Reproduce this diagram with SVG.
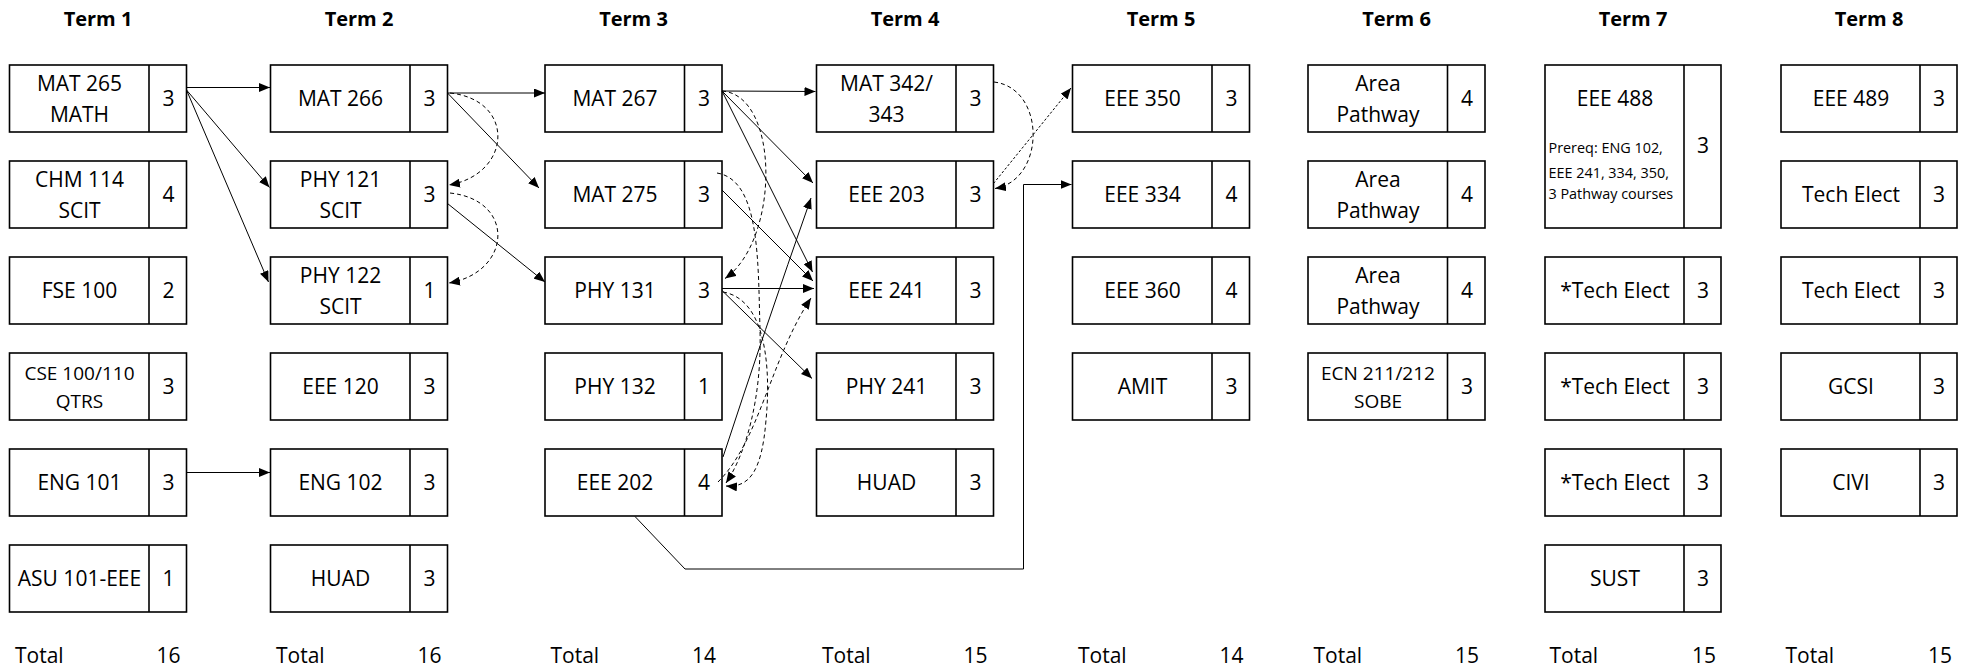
<svg xmlns="http://www.w3.org/2000/svg" width="1971" height="669" viewBox="0 0 1971 669">
<style>
.bx{fill:#fff;stroke:#000;stroke-width:1.6}
.dv{stroke:#000;stroke-width:1.6}
text{font-family:'Open Sans','Liberation Sans',sans-serif;fill:#000}
.t{font-size:21px;text-anchor:middle}
.sm{font-size:19px}
.ttl{font-size:20px;font-weight:bold;text-anchor:middle}
.pre{font-size:14.4px;text-anchor:start}
.tot{font-size:21px}
.tn{font-size:21px;text-anchor:end}
.c{fill:none;stroke:#000;stroke-width:1}
.d{stroke-dasharray:4 3}
.dot{stroke-dasharray:2.5 2}
</style>
<defs>
<marker id="ah" viewBox="0 0 11 9" refX="11" refY="4.5" markerWidth="11" markerHeight="9" markerUnits="userSpaceOnUse" orient="auto">
<path d="M0,0 L11,4.5 L0,9 z" fill="#000"/>
</marker>
</defs>
<rect width="1971" height="669" fill="#fff"/>

<g id="titles">
<text class="ttl" x="98" y="26">Term 1</text>
<text class="ttl" x="359" y="26">Term 2</text>
<text class="ttl" x="633.5" y="26">Term 3</text>
<text class="ttl" x="905" y="26">Term 4</text>
<text class="ttl" x="1161" y="26">Term 5</text>
<text class="ttl" x="1396.5" y="26">Term 6</text>
<text class="ttl" x="1633" y="26">Term 7</text>
<text class="ttl" x="1869" y="26">Term 8</text>
</g>

<!-- Term 1 -->
<g id="mat265"><rect class="bx" x="9.5" y="65" width="177" height="67"/><line class="dv" x1="149" y1="65" x2="149" y2="132"/><text class="t" x="79.5" y="90.7">MAT 265</text><text class="t" x="79.5" y="121.7">MATH</text><text class="t" x="168.5" y="106">3</text></g>
<g id="chm114"><rect class="bx" x="9.5" y="161" width="177" height="67"/><line class="dv" x1="149" y1="161" x2="149" y2="228"/><text class="t" x="79.5" y="186.7">CHM 114</text><text class="t" x="79.5" y="217.7">SCIT</text><text class="t" x="168.5" y="202">4</text></g>
<g id="fse100"><rect class="bx" x="9.5" y="257" width="177" height="67"/><line class="dv" x1="149" y1="257" x2="149" y2="324"/><text class="t" x="79.5" y="298">FSE 100</text><text class="t" x="168.5" y="298">2</text></g>
<g id="cse100"><rect class="bx" x="9.5" y="353" width="177" height="67"/><line class="dv" x1="149" y1="353" x2="149" y2="420"/><text class="t sm" x="79.5" y="380">CSE 100/110</text><text class="t sm" x="79.5" y="408">QTRS</text><text class="t" x="168.5" y="394">3</text></g>
<g id="eng101"><rect class="bx" x="9.5" y="449" width="177" height="67"/><line class="dv" x1="149" y1="449" x2="149" y2="516"/><text class="t" x="79.5" y="490">ENG 101</text><text class="t" x="168.5" y="490">3</text></g>
<g id="asu101"><rect class="bx" x="9.5" y="545" width="177" height="67"/><line class="dv" x1="149" y1="545" x2="149" y2="612"/><text class="t" x="79.5" y="586">ASU 101-EEE</text><text class="t" x="168.5" y="586">1</text></g>

<!-- Term 2 -->
<g id="mat266"><rect class="bx" x="270.5" y="65" width="177" height="67"/><line class="dv" x1="410" y1="65" x2="410" y2="132"/><text class="t" x="340.5" y="106">MAT 266</text><text class="t" x="429.5" y="106">3</text></g>
<g id="phy121"><rect class="bx" x="270.5" y="161" width="177" height="67"/><line class="dv" x1="410" y1="161" x2="410" y2="228"/><text class="t" x="340.5" y="186.7">PHY 121</text><text class="t" x="340.5" y="217.7">SCIT</text><text class="t" x="429.5" y="202">3</text></g>
<g id="phy122"><rect class="bx" x="270.5" y="257" width="177" height="67"/><line class="dv" x1="410" y1="257" x2="410" y2="324"/><text class="t" x="340.5" y="282.7">PHY 122</text><text class="t" x="340.5" y="313.7">SCIT</text><text class="t" x="429.5" y="298">1</text></g>
<g id="eee120"><rect class="bx" x="270.5" y="353" width="177" height="67"/><line class="dv" x1="410" y1="353" x2="410" y2="420"/><text class="t" x="340.5" y="394">EEE 120</text><text class="t" x="429.5" y="394">3</text></g>
<g id="eng102"><rect class="bx" x="270.5" y="449" width="177" height="67"/><line class="dv" x1="410" y1="449" x2="410" y2="516"/><text class="t" x="340.5" y="490">ENG 102</text><text class="t" x="429.5" y="490">3</text></g>
<g id="huad2"><rect class="bx" x="270.5" y="545" width="177" height="67"/><line class="dv" x1="410" y1="545" x2="410" y2="612"/><text class="t" x="340.5" y="586">HUAD</text><text class="t" x="429.5" y="586">3</text></g>

<!-- Term 3 -->
<g id="mat267"><rect class="bx" x="545" y="65" width="177" height="67"/><line class="dv" x1="684.5" y1="65" x2="684.5" y2="132"/><text class="t" x="615" y="106">MAT 267</text><text class="t" x="704" y="106">3</text></g>
<g id="mat275"><rect class="bx" x="545" y="161" width="177" height="67"/><line class="dv" x1="684.5" y1="161" x2="684.5" y2="228"/><text class="t" x="615" y="202">MAT 275</text><text class="t" x="704" y="202">3</text></g>
<g id="phy131"><rect class="bx" x="545" y="257" width="177" height="67"/><line class="dv" x1="684.5" y1="257" x2="684.5" y2="324"/><text class="t" x="615" y="298">PHY 131</text><text class="t" x="704" y="298">3</text></g>
<g id="phy132"><rect class="bx" x="545" y="353" width="177" height="67"/><line class="dv" x1="684.5" y1="353" x2="684.5" y2="420"/><text class="t" x="615" y="394">PHY 132</text><text class="t" x="704" y="394">1</text></g>
<g id="eee202"><rect class="bx" x="545" y="449" width="177" height="67"/><line class="dv" x1="684.5" y1="449" x2="684.5" y2="516"/><text class="t" x="615" y="490">EEE 202</text><text class="t" x="704" y="490">4</text></g>

<!-- Term 4 -->
<g id="mat342"><rect class="bx" x="816.5" y="65" width="177" height="67"/><line class="dv" x1="956" y1="65" x2="956" y2="132"/><text class="t" x="886.5" y="90.7">MAT 342/</text><text class="t" x="886.5" y="121.7">343</text><text class="t" x="975.5" y="106">3</text></g>
<g id="eee203"><rect class="bx" x="816.5" y="161" width="177" height="67"/><line class="dv" x1="956" y1="161" x2="956" y2="228"/><text class="t" x="886.5" y="202">EEE 203</text><text class="t" x="975.5" y="202">3</text></g>
<g id="eee241"><rect class="bx" x="816.5" y="257" width="177" height="67"/><line class="dv" x1="956" y1="257" x2="956" y2="324"/><text class="t" x="886.5" y="298">EEE 241</text><text class="t" x="975.5" y="298">3</text></g>
<g id="phy241"><rect class="bx" x="816.5" y="353" width="177" height="67"/><line class="dv" x1="956" y1="353" x2="956" y2="420"/><text class="t" x="886.5" y="394">PHY 241</text><text class="t" x="975.5" y="394">3</text></g>
<g id="huad4"><rect class="bx" x="816.5" y="449" width="177" height="67"/><line class="dv" x1="956" y1="449" x2="956" y2="516"/><text class="t" x="886.5" y="490">HUAD</text><text class="t" x="975.5" y="490">3</text></g>

<!-- Term 5 -->
<g id="eee350"><rect class="bx" x="1072.5" y="65" width="177" height="67"/><line class="dv" x1="1212" y1="65" x2="1212" y2="132"/><text class="t" x="1142.5" y="106">EEE 350</text><text class="t" x="1231.5" y="106">3</text></g>
<g id="eee334"><rect class="bx" x="1072.5" y="161" width="177" height="67"/><line class="dv" x1="1212" y1="161" x2="1212" y2="228"/><text class="t" x="1142.5" y="202">EEE 334</text><text class="t" x="1231.5" y="202">4</text></g>
<g id="eee360"><rect class="bx" x="1072.5" y="257" width="177" height="67"/><line class="dv" x1="1212" y1="257" x2="1212" y2="324"/><text class="t" x="1142.5" y="298">EEE 360</text><text class="t" x="1231.5" y="298">4</text></g>
<g id="amit"><rect class="bx" x="1072.5" y="353" width="177" height="67"/><line class="dv" x1="1212" y1="353" x2="1212" y2="420"/><text class="t" x="1142.5" y="394">AMIT</text><text class="t" x="1231.5" y="394">3</text></g>

<!-- Term 6 -->
<g id="area1"><rect class="bx" x="1308" y="65" width="177" height="67"/><line class="dv" x1="1447.5" y1="65" x2="1447.5" y2="132"/><text class="t" x="1378" y="90.7">Area</text><text class="t" x="1378" y="121.7">Pathway</text><text class="t" x="1467" y="106">4</text></g>
<g id="area2"><rect class="bx" x="1308" y="161" width="177" height="67"/><line class="dv" x1="1447.5" y1="161" x2="1447.5" y2="228"/><text class="t" x="1378" y="186.7">Area</text><text class="t" x="1378" y="217.7">Pathway</text><text class="t" x="1467" y="202">4</text></g>
<g id="area3"><rect class="bx" x="1308" y="257" width="177" height="67"/><line class="dv" x1="1447.5" y1="257" x2="1447.5" y2="324"/><text class="t" x="1378" y="282.7">Area</text><text class="t" x="1378" y="313.7">Pathway</text><text class="t" x="1467" y="298">4</text></g>
<g id="ecn211"><rect class="bx" x="1308" y="353" width="177" height="67"/><line class="dv" x1="1447.5" y1="353" x2="1447.5" y2="420"/><text class="t sm" x="1378" y="380">ECN 211/212</text><text class="t sm" x="1378" y="408">SOBE</text><text class="t" x="1467" y="394">3</text></g>

<!-- Term 7 -->
<g id="eee488"><rect class="bx" x="1545" y="65" width="176" height="163"/><line class="dv" x1="1684" y1="65" x2="1684" y2="228"/><text class="t" x="1615" y="106">EEE 488</text><text class="pre" x="1548.5" y="153.3">Prereq: ENG 102,</text><text class="pre" x="1548.5" y="178.3">EEE 241, 334, 350,</text><text class="pre" x="1548.5" y="199">3 Pathway courses</text><text class="t" x="1703" y="153">3</text></g>
<g id="tech7a"><rect class="bx" x="1545" y="257" width="176" height="67"/><line class="dv" x1="1684" y1="257" x2="1684" y2="324"/><text class="t" x="1615" y="298">*Tech Elect</text><text class="t" x="1703" y="298">3</text></g>
<g id="tech7b"><rect class="bx" x="1545" y="353" width="176" height="67"/><line class="dv" x1="1684" y1="353" x2="1684" y2="420"/><text class="t" x="1615" y="394">*Tech Elect</text><text class="t" x="1703" y="394">3</text></g>
<g id="tech7c"><rect class="bx" x="1545" y="449" width="176" height="67"/><line class="dv" x1="1684" y1="449" x2="1684" y2="516"/><text class="t" x="1615" y="490">*Tech Elect</text><text class="t" x="1703" y="490">3</text></g>
<g id="sust"><rect class="bx" x="1545" y="545" width="176" height="67"/><line class="dv" x1="1684" y1="545" x2="1684" y2="612"/><text class="t" x="1615" y="586">SUST</text><text class="t" x="1703" y="586">3</text></g>

<!-- Term 8 -->
<g id="eee489"><rect class="bx" x="1781" y="65" width="176" height="67"/><line class="dv" x1="1920" y1="65" x2="1920" y2="132"/><text class="t" x="1851" y="106">EEE 489</text><text class="t" x="1939" y="106">3</text></g>
<g id="tech8a"><rect class="bx" x="1781" y="161" width="176" height="67"/><line class="dv" x1="1920" y1="161" x2="1920" y2="228"/><text class="t" x="1851" y="202">Tech Elect</text><text class="t" x="1939" y="202">3</text></g>
<g id="tech8b"><rect class="bx" x="1781" y="257" width="176" height="67"/><line class="dv" x1="1920" y1="257" x2="1920" y2="324"/><text class="t" x="1851" y="298">Tech Elect</text><text class="t" x="1939" y="298">3</text></g>
<g id="gcsi"><rect class="bx" x="1781" y="353" width="176" height="67"/><line class="dv" x1="1920" y1="353" x2="1920" y2="420"/><text class="t" x="1851" y="394">GCSI</text><text class="t" x="1939" y="394">3</text></g>
<g id="civi"><rect class="bx" x="1781" y="449" width="176" height="67"/><line class="dv" x1="1920" y1="449" x2="1920" y2="516"/><text class="t" x="1851" y="490">CIVI</text><text class="t" x="1939" y="490">3</text></g>

<g id="totals">
<text class="tot" x="15" y="663">Total</text><text class="tn" x="180.5" y="663">16</text>
<text class="tot" x="276" y="663">Total</text><text class="tn" x="441.5" y="663">16</text>
<text class="tot" x="550.5" y="663">Total</text><text class="tn" x="716" y="663">14</text>
<text class="tot" x="822" y="663">Total</text><text class="tn" x="987.5" y="663">15</text>
<text class="tot" x="1078" y="663">Total</text><text class="tn" x="1243.5" y="663">14</text>
<text class="tot" x="1313.5" y="663">Total</text><text class="tn" x="1479" y="663">15</text>
<text class="tot" x="1549.5" y="663">Total</text><text class="tn" x="1716" y="663">15</text>
<text class="tot" x="1785.5" y="663">Total</text><text class="tn" x="1952" y="663">15</text>
</g>

<g id="connectors" marker-end="url(#ah)">
<!-- Term 1 to Term 2 -->
<path class="c" d="M186.5,87.5 L270,87.5" marker-end="url(#ah)"/>
<path class="c" d="M186.5,90 L269.5,187.5" marker-end="url(#ah)"/>
<path class="c" d="M186.5,90 L268.5,282" marker-end="url(#ah)"/>
<path class="c" d="M186.5,472.5 L270,472.5" marker-end="url(#ah)"/>
<!-- Term 2 to Term 3 -->
<path class="c" d="M447.5,93 L545,93" marker-end="url(#ah)"/>
<path class="c" d="M447.5,93 L539,188" marker-end="url(#ah)"/>
<path class="c" d="M447.5,203.5 L545,282" marker-end="url(#ah)"/>
<path class="c d" d="M450,93 C516,100 512,174 449,185" marker-end="url(#ah)"/>
<path class="c d" d="M450,193 C516,200 512,272 449,283" marker-end="url(#ah)"/>
<!-- Term 3 to Term 4 -->
<path class="c" d="M722,91 L815.5,91.5" marker-end="url(#ah)"/>
<path class="c" d="M722,91 L813,183" marker-end="url(#ah)"/>
<path class="c" d="M722,91 L812.5,272" marker-end="url(#ah)"/>
<path class="c" d="M722,190 L813,281" marker-end="url(#ah)"/>
<path class="c" d="M722,288.5 L814,288.5" marker-end="url(#ah)"/>
<path class="c" d="M722,290.5 L812,378.5" marker-end="url(#ah)"/>
<path class="c" d="M723,457 Q764,332 811,198" marker-end="url(#ah)"/>
<path class="c d" d="M722,91 C780,95 780,240 725,278.5" marker-end="url(#ah)"/>
<path class="c d" d="M717,173 C760,180 758,260 760,330 C762,400 745,455 726,483" marker-end="url(#ah)"/>
<path class="c d" d="M723,292 C770,300 770,380 766,420 C762,470 750,488 726,486" marker-end="url(#ah)"/>
<path class="c d" d="M718,482 C760,440 770,360 811,298" marker-end="url(#ah)"/>
<!-- Term 4 to Term 5 -->
<path class="c d" d="M994,82 C1046,88 1046,180 995,188.5" marker-end="url(#ah)"/>
<path class="c dot" d="M993.5,183.5 L1071,88" marker-end="url(#ah)"/>
<path class="c" d="M635,516.5 L685,569 L1023.5,569 L1023.5,184.5 L1071.5,184.5" marker-end="url(#ah)"/>
</g>
</svg>
